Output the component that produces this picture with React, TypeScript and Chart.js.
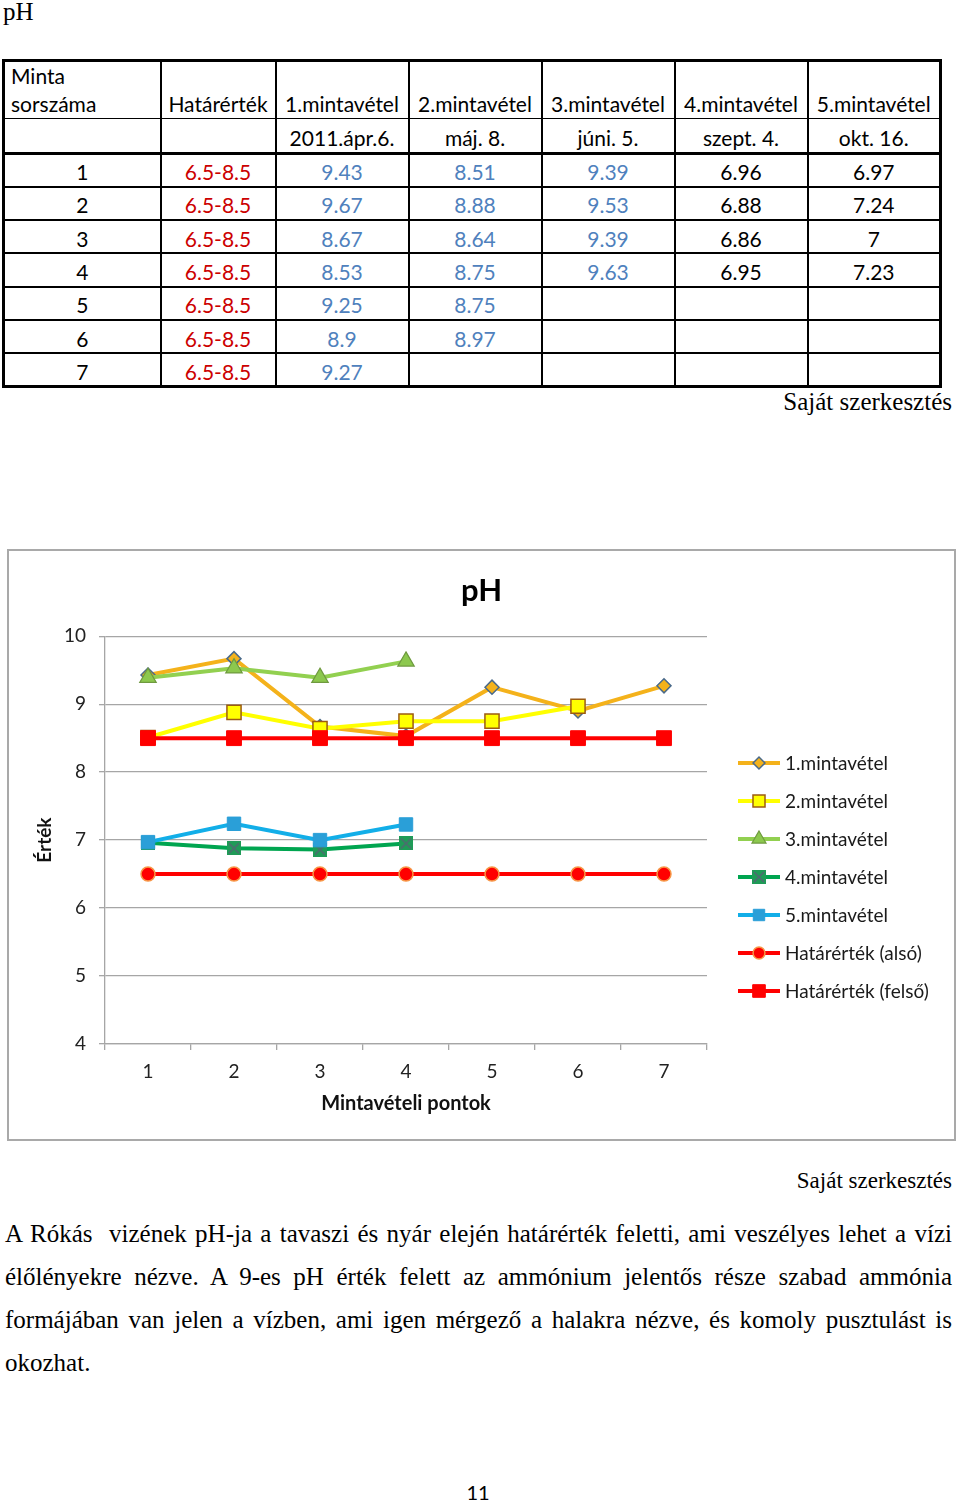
import React, { useEffect, useRef } from 'react';
import { Chart, registerables } from 'chart.js';
import { drawPoint } from 'chart.js/helpers';

Chart.register(...registerables);

// ---------- data ----------
const categories = ['1', '2', '3', '4', '5', '6', '7'];
const yTicks = [4, 5, 6, 7, 8, 9, 10];
const seriesNames = ['1.mintavétel', '2.mintavétel', '3.mintavétel', '4.mintavétel', '5.mintavétel', 'Határérték (alsó)', 'Határérték (felső)'];
const series1 = [9.43, 9.67, 8.67, 8.53, 9.25, 8.9, 9.27];
const series2 = [8.51, 8.88, 8.64, 8.75, 8.75, 8.97, null];
const series3 = [9.39, 9.53, 9.39, 9.63, null, null, null];
const series4 = [6.96, 6.88, 6.86, 6.95, null, null, null];
const series5 = [6.97, 7.24, 7, 7.23, null, null, null];
const limitLow = [6.5, 6.5, 6.5, 6.5, 6.5, 6.5, 6.5];
const limitHigh = [8.5, 8.5, 8.5, 8.5, 8.5, 8.5, 8.5];
const limitText = '6.5-8.5';
const tableHead = ['Határérték', '1.mintavétel', '2.mintavétel', '3.mintavétel', '4.mintavétel', '5.mintavétel'];
const tableDates = ['2011.ápr.6.', 'máj. 8.', 'júni. 5.', 'szept. 4.', 'okt. 16.'];
const paragraphLines = [
  'A Rókás\u00a0 vizének pH-ja a tavaszi és nyár elején határérték feletti, ami veszélyes lehet a vízi',
  'élőlényekre nézve. A 9-es pH érték felett az ammónium jelentős része szabad ammónia',
  'formájában van jelen a vízben, ami igen mérgező a halakra nézve, és komoly pusztulást is',
  'okozhat.',
];

const SANS = 'Lato, "Open Sans", sans-serif';
const SERIF = '"Liberation Serif", "DejaVu Serif", serif';
const GRID = '#a6a6a6';

function xSquare(): HTMLCanvasElement {
  const c = document.createElement('canvas');
  c.width = 14;
  c.height = 14;
  const g = c.getContext('2d')!;
  g.fillStyle = '#1f9b57';
  g.fillRect(0, 0, 14, 14);
  g.strokeStyle = '#4f6a70';
  g.lineWidth = 1.6;
  g.beginPath();
  g.moveTo(2, 2);
  g.lineTo(12, 12);
  g.moveTo(12, 2);
  g.lineTo(2, 12);
  g.stroke();
  return c;
}

const legendPlugin = {
  id: 'lineLegend',
  afterDraw(chart: any) {
    const ctx = chart.ctx;
    const x0 = 729, x1 = 771, tx = 776, top = 212, gap = 38;
    chart.data.datasets.forEach((ds: any, i: number) => {
      const y = top + i * gap;
      ctx.save();
      ctx.strokeStyle = ds.borderColor;
      ctx.lineWidth = ds.borderWidth;
      ctx.beginPath();
      ctx.moveTo(x0, y);
      ctx.lineTo(x1, y);
      ctx.stroke();
      ctx.fillStyle = ds.pointBackgroundColor;
      ctx.strokeStyle = ds.pointBorderColor;
      ctx.lineWidth = ds.pointBorderWidth;
      drawPoint(ctx, { pointStyle: ds.pointStyle, rotation: 0, radius: ds.pointRadius * 0.85, borderWidth: ds.pointBorderWidth }, (x0 + x1) / 2, y);
      ctx.fillStyle = '#1a1a1a';
      ctx.font = '19px ' + SANS;
      ctx.textBaseline = 'middle';
      ctx.textAlign = 'left';
      ctx.fillText(ds.label, tx, y + 1);
      ctx.restore();
    });
  },
};

function PhChart() {
  const ref = useRef<HTMLCanvasElement>(null);
  useEffect(() => {
    const mk = (i: number, data: any[], color: string, style: any, radius: number, bg: string, border: string, bw: number) => ({
      label: seriesNames[i],
      data,
      borderColor: color,
      borderWidth: 4,
      pointStyle: style,
      pointRadius: radius,
      pointBackgroundColor: bg,
      pointBorderColor: border,
      pointBorderWidth: bw,
      tension: 0,
      order: seriesNames.length - 1 - i,
    });
    const chart = new Chart(ref.current!, {
      type: 'line',
      data: {
        labels: categories,
        datasets: [
          mk(0, series1, '#f4b21b', 'rectRot', 7, '#f4b21b', '#4a6a8a', 1.5),
          mk(1, series2, '#ffff00', 'rect', 10, '#ffff00', '#9c5b12', 1.5),
          mk(2, series3, '#92d050', 'triangle', 9.5, '#8cc84e', '#6f9a3f', 1.2),
          mk(3, series4, '#00a550', xSquare(), 7, '#1f9b57', '#4f6a70', 1),
          mk(4, series5, '#12aee8', 'rect', 9.5, '#2a9fd8', '#2a9fd8', 1),
          mk(5, limitLow, '#ff0000', 'circle', 7, '#ff0000', '#f79646', 1.5),
          mk(6, limitHigh, '#ff0000', 'rect', 10.5, '#ff0000', '#ff0000', 1),
        ] as any,
      },
      options: {
        animation: false,
        responsive: false,
        maintainAspectRatio: false,
        devicePixelRatio: 1,
        layout: { padding: 0 },
        plugins: {
          legend: { display: false },
          tooltip: { enabled: false },
          title: {
            display: true,
            text: 'pH',
            color: '#000',
            font: { family: SANS, size: 31, weight: 'bold' },
            padding: { top: 21, bottom: 27 },
          },
        },
        scales: {
          x: {
            type: 'category',
            offset: true,
            grid: { display: true, drawOnChartArea: false, drawTicks: true, tickLength: 6, offset: true, color: GRID, lineWidth: 1.3 },
            border: { display: true, color: GRID, width: 1.3 },
            ticks: { font: { family: SANS, size: 19 }, color: '#222', padding: 10, maxRotation: 0 },
            title: { display: true, text: 'Mintavételi pontok', color: '#111', font: { family: SANS, size: 20, weight: 'bold' }, padding: { top: 0, bottom: 23.5 } },
            afterFit: (s: any) => { s.height = 95; },
          },
          y: {
            min: 4,
            max: 10,
            afterBuildTicks: (s: any) => { s.ticks = yTicks.map((v) => ({ value: v })); },
            grid: { color: GRID, lineWidth: 1.3, tickLength: 6 },
            border: { display: true, color: GRID, width: 1.3 },
            ticks: { font: { family: SANS, size: 19 }, color: '#222', padding: 13 },
            title: { display: true, text: 'Érték', color: '#111', font: { family: SANS, size: 19, weight: 'bold' }, padding: { top: 24.6, bottom: 0 } },
            afterFit: (s: any) => { s.width = 96; },
          },
          yR: {
            position: 'right',
            display: true,
            grid: { display: false },
            border: { display: false },
            ticks: { display: false },
            afterFit: (s: any) => { s.width = 247; },
          },
        },
      } as any,
      plugins: [legendPlugin],
    });
    return () => chart.destroy();
  }, []);
  return <canvas ref={ref} width={945} height={588} style={{ display: 'block', width: 945, height: 588 }} />;
}

const cellB = '2px solid #000';

function DataTable() {
  const colW = [157, 115, 133, 133, 133, 133, 133];
  const rowH = 33.3;
  const blue = '#4f81bd';
  const red = '#cc0000';
  const base: React.CSSProperties = { borderLeft: cellB, borderRight: cellB, textAlign: 'center', padding: 0, whiteSpace: 'nowrap' };
  const cols = [series1, series2, series3, series4, series5];
  return (
    <table
      style={{
        position: 'absolute', left: 2, top: 59, width: 939, borderCollapse: 'collapse', tableLayout: 'fixed',
        border: '3px solid #000', fontFamily: SANS, fontSize: 21, color: '#000',
      }}
    >
      <colgroup>
        {colW.map((w, i) => <col key={i} style={{ width: w }} />)}
      </colgroup>
      <tbody>
        <tr style={{ height: 58 }}>
          <td style={{ ...base, textAlign: 'left', verticalAlign: 'bottom', paddingLeft: 6, lineHeight: '28px', borderBottom: '1px solid #000' }}>
            Minta<br />sorszáma
          </td>
          {tableHead.map((h) => (
            <td key={h} style={{ ...base, verticalAlign: 'bottom', lineHeight: '28px', borderBottom: '1px solid #000' }}>{h}</td>
          ))}
        </tr>
        <tr style={{ height: 35 }}>
          <td style={{ ...base, borderBottom: '3px solid #000' }}></td>
          <td style={{ ...base, borderBottom: '3px solid #000' }}></td>
          {tableDates.map((d) => (
            <td key={d} style={{ ...base, borderBottom: '3px solid #000', paddingTop: 4 }}>{d}</td>
          ))}
        </tr>
        {categories.map((c, r) => (
          <tr key={c} style={{ height: rowH }}>
            <td style={{ ...base, borderBottom: cellB, paddingTop: 3 }}>{c}</td>
            <td style={{ ...base, borderBottom: cellB, color: red, paddingTop: 3 }}>{limitText}</td>
            {cols.map((s, k) => (
              <td key={k} style={{ ...base, borderBottom: cellB, color: k < 3 ? blue : '#000', paddingTop: 3 }}>
                {s[r] === null || s[r] === undefined ? '' : String(s[r])}
              </td>
            ))}
          </tr>
        ))}
      </tbody>
    </table>
  );
}

export default function App() {
  return (
    <div style={{ position: 'absolute', left: 0, top: 0, width: 960, height: 1502, background: '#fff', overflow: 'hidden' }}>
      <div style={{ position: 'absolute', left: 3, top: -2, fontFamily: SERIF, fontSize: 25, lineHeight: '28px' }}>pH</div>
      <DataTable />
      <div style={{ position: 'absolute', right: 8, top: 387, fontFamily: SERIF, fontSize: 25, lineHeight: '30px' }}>Saját szerkesztés</div>
      <div style={{ position: 'absolute', left: 7, top: 549, width: 949, height: 592, boxSizing: 'border-box', border: '2px solid #a9a9a9' }}>
        <PhChart />
      </div>
      <div style={{ position: 'absolute', right: 8, top: 1166, fontFamily: SERIF, fontSize: 23, lineHeight: '30px' }}>Saját szerkesztés</div>
      {paragraphLines.map((t, i) => (
        <div
          key={i}
          style={{
            position: 'absolute', left: 5, top: 1219 + i * 43, width: 947, fontFamily: SERIF, fontSize: 25, lineHeight: '30px',
            textAlign: 'justify', textAlignLast: i < paragraphLines.length - 1 ? 'justify' : 'left', whiteSpace: 'nowrap',
          }}
        >
          {t}
        </div>
      ))}
      <div style={{ position: 'absolute', left: 0, width: 956, top: 1480, textAlign: 'center', fontFamily: SANS, fontSize: 20, lineHeight: '24px' }}>11</div>
    </div>
  );
}
